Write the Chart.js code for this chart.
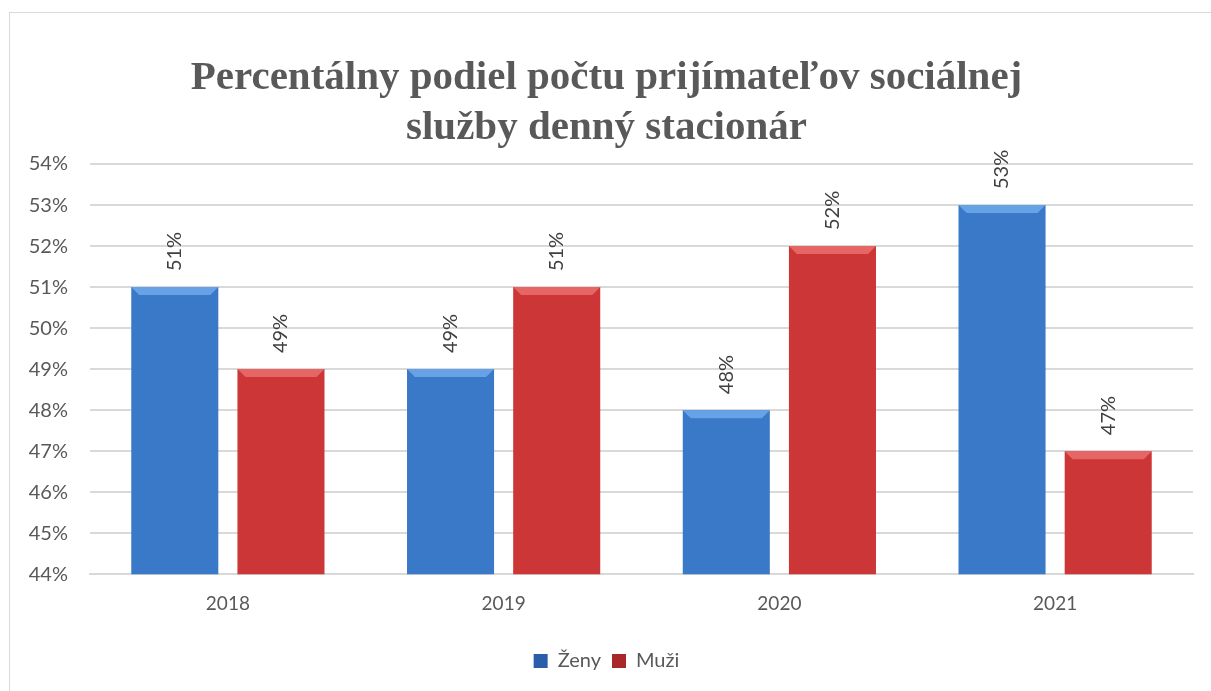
<!DOCTYPE html>
<html lang="sk">
<head>
<meta charset="UTF-8">
<title>Denný stacionár</title>
<script src="https://cdn.jsdelivr.net/npm/chart.js"></script>
<style>
  body{margin:0;background:#fff;overflow:hidden;}
  #frame{position:absolute;left:9px;top:12px;width:1240px;height:720px;border:1px solid #d9d9d9;}
  #wrap{position:absolute;left:0;top:0;width:1211px;height:691px;}
</style>
</head>
<body>
<div id="frame"></div>
<div id="wrap"><canvas id="myChart"></canvas></div>
<script>
  // udaje z grafu
  const roky = ['2018', '2019', '2020', '2021'];
  const zeny = [51, 49, 48, 53];
  const muzi = [49, 51, 52, 47];
  const yTicks = [44, 45, 46, 47, 48, 49, 50, 51, 52, 53, 54];

  const textColor = '#595959';

  function barGradient(ctx, dark, mid, light){
    const el = ctx.element;
    const chart = ctx.chart;
    if(!el || el.width == null) return mid;
    const x0 = el.x - el.width/2, x1 = el.x + el.width/2;
    const g = chart.ctx.createLinearGradient(x0, 0, x1, 0);
    g.addColorStop(0, dark);
    g.addColorStop(0.1, mid);
    g.addColorStop(0.5, light);
    g.addColorStop(0.9, mid);
    g.addColorStop(1, dark);
    return g;
  }

  // svetly horny okraj stlpca (bevel)
  const bevelPlugin = {
    id: 'bevel',
    afterDatasetsDraw(chart){
      const c = chart.ctx;
      const tops = ['#68a2e6', '#e66666'];
      chart.data.datasets.forEach((ds, i) => {
        chart.getDatasetMeta(i).data.forEach(bar => {
          const l = bar.x - bar.width/2, r = bar.x + bar.width/2, t = bar.y;
          const b = 8;
          c.save();
          c.fillStyle = tops[i];
          c.beginPath();
          c.moveTo(l, t); c.lineTo(r, t); c.lineTo(r - b, t + b); c.lineTo(l + b, t + b);
          c.closePath(); c.fill();
          c.restore();
        });
      });
    }
  };

  // popisky hodnot otocene o 90 stupnov
  const labelPlugin = {
    id: 'vals',
    afterDatasetsDraw(chart){
      const c = chart.ctx;
      c.save();
      c.font = '20px Lato';
      c.fillStyle = '#404040';
      c.textAlign = 'left';
      c.textBaseline = 'middle';
      chart.data.datasets.forEach((ds, i) => {
        chart.getDatasetMeta(i).data.forEach((bar, j) => {
          c.save();
          c.translate(bar.x, bar.y - 16);
          c.rotate(-Math.PI/2);
          c.fillText(ds.data[j] + '%', 0, 0);
          c.restore();
        });
      });
      c.restore();
    }
  };

  const ctx = document.getElementById('myChart');
  new Chart(ctx, {
    type: 'bar',
    data: {
      labels: roky,
      datasets: [{
        label: 'Ženy',
        data: zeny,
        backgroundColor: c => barGradient(c, '#2a5ea8', '#3a78c8', '#4786d8'),
        borderWidth: 0
      }, {
        label: 'Muži',
        data: muzi,
        backgroundColor: c => barGradient(c, '#a82828', '#cc3636', '#d84444'),
        borderWidth: 0
      }]
    },
    plugins: [bevelPlugin, labelPlugin],
    options: {
      responsive: true,
      maintainAspectRatio: false,
      animation: false,
      layout: { padding: { left: 20, right: 18, top: 44, bottom: 10 } },
      categoryPercentage: 0.77,
      barPercentage: 0.82,
      plugins: {
        title: {
          display: true,
          text: ['Percentálny podiel počtu prijímateľov sociálnej', 'služby denný stacionár'],
          color: textColor,
          font: { family: 'Liberation Serif', size: 41, weight: 'bold', lineHeight: 1.22 },
          padding: { top: 9, bottom: 11 }
        },
        legend: {
          position: 'bottom',
          labels: {
            color: textColor,
            font: { family: 'Lato', size: 20 },
            boxWidth: 14,
            boxHeight: 14,
            padding: 11
          }
        },
        tooltip: { enabled: false }
      },
      scales: {
        x: {
          afterFit(scale){ scale.height += 7; },
          grid: { display: false, drawTicks: false },
          border: { color: '#d9d9d9', width: 2 },
          ticks: { color: textColor, font: { family: 'Lato', size: 19 }, padding: 18 }
        },
        y: {
          min: yTicks[0],
          max: yTicks[yTicks.length - 1],
          afterFit(scale){ scale.width = 70; },
          afterBuildTicks(scale){ scale.ticks = yTicks.map(v => ({ value: v })); },
          grid: { color: '#d9d9d9', lineWidth: 2, drawTicks: false },
          border: { display: false },
          ticks: {
            color: textColor,
            font: { family: 'Lato', size: 20 },
            padding: 22,
            callback: v => v + '%'
          }
        }
      }
    }
  });
</script>
</body>
</html>
